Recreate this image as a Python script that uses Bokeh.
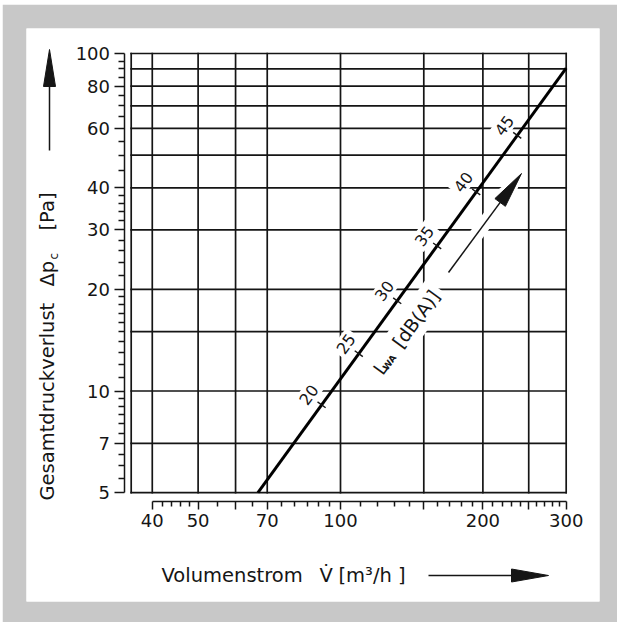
import math
from bokeh.plotting import figure
from bokeh.models import Range1d, FixedTicker
from bokeh.core.properties import value
from bokeh.embed import file_html
from bokeh.resources import INLINE

# ---------------- data ----------------
CURVE_V = [66.9, 300.0]          # Volumenstrom [m3/h]
CURVE_DP = [5.0, 90.5]           # Gesamtdruckverlust [Pa]

DB_LABELS = ["20", "25", "30", "35", "40", "45"]          # L_WA [dB(A)]
DB_V = [91.2, 109.3, 131.8, 160.1, 193.6, 236.4]
DB_DP = [9.10, 12.9, 18.5, 26.9, 38.9, 57.2]

GRID_V = [40, 50, 60, 70, 100, 150, 200, 250, 300]
GRID_DP = [5, 7, 10, 15, 20, 30, 40, 50, 60, 70, 80, 90, 100]
BOX_V = [36.1, 300]
BOX_DP = [5, 100]

X_TICKS = [40, 50, 60, 70, 100, 150, 200, 250, 300]
X_TICK_LABELS = ["40", "50", "", "70", "100", "", "200", "", "300"]
X_MINOR = [42, 44, 46, 48, 55, 65, 75, 80, 85, 90, 95,
           110, 120, 130, 140, 160, 170, 180, 190,
           210, 220, 230, 240, 260, 270, 280, 290]
Y_TICKS = [5, 7, 10, 20, 30, 40, 60, 80, 100]
Y_TICK_LABELS = ["5", "7", "10", "20", "30", "40", "60", "80", "100"]
Y_MINOR = [5.5, 6, 6.5, 7.5, 8, 8.5, 9, 9.5,
           11, 12, 13, 14, 15, 16, 17, 18, 19,
           22, 24, 26, 28, 32, 34, 36, 38,
           45, 50, 55, 65, 70, 75, 85, 90, 95]

# ---------------- layout helpers (page pixel -> data) ----------------
X_PX100, X_PXDEC = 340.0, 473.0     # page x of V=100, px per decade
Y_PX100, Y_PXDEC = 53.0, 337.5      # page y of dp=100, px per decade


def dx(px):
    return 100.0 * 10 ** ((px - X_PX100) / X_PXDEC)


def dy(py):
    return 10 ** (2 - (py - Y_PX100) / Y_PXDEC)


OX, OY = 2, 4                # gray card offset on the page
W, H = 617 - OX, 622 - OY
PANEL = (26, 599, 28, 601)   # white panel: left, right, top, bottom (page px)

FONT = value("DejaVu Sans")
INK = "#151515"
ANG = math.radians(54.0)
TITLE_SIZE = "19.5px"

p = figure(width=W, height=H, x_axis_type="log", y_axis_type="log",
           x_range=Range1d(dx(PANEL[0]), dx(PANEL[1])), y_range=Range1d(dy(PANEL[3]), dy(PANEL[2])),
           output_backend="svg", toolbar_location=None,
           min_border_left=PANEL[0] - OX, min_border_right=OX + W - PANEL[1],
           min_border_top=PANEL[2] - OY, min_border_bottom=OY + H - PANEL[3])
p.styles = {"margin-left": f"{OX}px", "margin-top": f"{OY}px"}
p.background_fill_color = "white"
p.border_fill_color = "#c8c8c8"
p.outline_line_color = None
p.xgrid.visible = False
p.ygrid.visible = False

# axes at fixed positions (detached from the grid box)
xa = p.xaxis[0]
xa.fixed_location = dy(500.5)
xa.bounds = (X_TICKS[0], X_TICKS[-1])
xa.ticker = FixedTicker(ticks=X_TICKS, minor_ticks=X_MINOR)
xa.major_label_overrides = {t: l for t, l in zip(X_TICKS, X_TICK_LABELS)}
xa.major_tick_out, xa.major_tick_in = 8, 0
xa.minor_tick_out, xa.minor_tick_in = 5, 0
xa.major_label_standoff = 5

ya = p.yaxis[0]
ya.fixed_location = dx(123.5)
ya.bounds = (Y_TICKS[0], Y_TICKS[-1])
ya.ticker = FixedTicker(ticks=Y_TICKS, minor_ticks=Y_MINOR)
ya.major_label_overrides = {t: l for t, l in zip(Y_TICKS, Y_TICK_LABELS)}
ya.major_tick_out, ya.major_tick_in = 10, 0
ya.minor_tick_out, ya.minor_tick_in = 6, 0
ya.major_label_standoff = 4

for ax in (xa, ya):
    ax.axis_line_color = INK
    ax.axis_line_width = 1.5
    ax.major_tick_line_color = INK
    ax.major_tick_line_width = 1.5
    ax.minor_tick_line_color = INK
    ax.minor_tick_line_width = 1.5
    ax.major_label_text_font = "DejaVu Sans"
    ax.major_label_text_font_size = "18px"
    ax.major_label_text_color = INK

# ---------------- grid box ----------------
vlines = [BOX_V[0]] + GRID_V
p.segment(x0=vlines, y0=[BOX_DP[0]] * len(vlines), x1=vlines, y1=[BOX_DP[1]] * len(vlines),
          line_color=INK, line_width=1.7, line_cap="square")
p.segment(x0=[BOX_V[0]] * len(GRID_DP), y0=GRID_DP, x1=[BOX_V[1]] * len(GRID_DP), y1=GRID_DP,
          line_color=INK, line_width=1.7, line_cap="square")


# ---------------- arrow helper (page px) ----------------
def arrow_geom(x0, y0, x1, y1, hl, hw):
    n = math.hypot(x1 - x0, y1 - y0)
    ux, uy = (x1 - x0) / n, (y1 - y0) / n
    bx, by = x1 - ux * hl, y1 - uy * hl
    px, py = -uy, ux
    tri = [(x1, y1), (bx + px * hw / 2, by + py * hw / 2), (bx - px * hw / 2, by - py * hw / 2)]
    shaft = [(x0, y0), (bx + ux * 2, by + uy * 2)]
    return shaft, tri


def draw_arrow(x0, y0, x1, y1, hl, hw, halo=0):
    if halo:
        n = math.hypot(x1 - x0, y1 - y0)
        ex, ey = x1 + (x1 - x0) / n * halo, y1 + (y1 - y0) / n * halo
        hs, ht = arrow_geom(x0, y0, ex, ey, hl + 2 * halo, hw + 2 * halo)
        p.line([dx(a) for a, b in hs], [dy(b) for a, b in hs], line_color="white",
               line_width=2 * halo)
        p.patch([dx(a) for a, b in ht], [dy(b) for a, b in ht], fill_color="white", line_color=None)
        return
    shaft, tri = arrow_geom(x0, y0, x1, y1, hl, hw)
    p.line([dx(a) for a, b in shaft], [dy(b) for a, b in shaft], line_color=INK, line_width=1.5)
    p.patch([dx(a) for a, b in tri], [dy(b) for a, b in tri], fill_color=INK, line_color=INK,
            line_width=1)


# halo behind the L_WA arrow, then the labels (white boxes cut the grid)
draw_arrow(448, 272, 521, 173, 36, 13, halo=7)

p.text(x=DB_V, y=DB_DP, text=DB_LABELS, angle=ANG, x_offset=-13, y_offset=-10,
       text_align="center", text_baseline="middle", text_font=FONT, text_font_size="16px",
       text_color=INK, background_fill_color="white", padding=3)

# L_WA [dB(A)] label along the line
ux, uy = math.cos(ANG), -math.sin(ANG)
vx, vy = math.sin(ANG), math.cos(ANG)
ox, oy = 374, 376


def along(s, t):
    return dx(ox + s * ux + t * vx), dy(oy + s * uy + t * vy)


lx, ly = along(0, 0)
wx, wy = along(12, 4)
bx, by = along(33, 0)
p.text(x=[lx, bx], y=[ly, by], text=["L", "[dB(A)]"], angle=ANG, text_align="left",
       text_baseline="middle", text_font=FONT, text_font_size="18.5px", text_color=INK,
       background_fill_color="white", padding=5)
p.text(x=[wx], y=[wy], text=["WA"], angle=ANG, text_align="left", text_baseline="middle",
       text_font=FONT, text_font_size="9px", text_font_style="bold", text_color=INK)

# characteristic curve and dB marks
p.line(CURVE_V, CURVE_DP, line_color="black", line_width=3)
p.scatter(DB_V, DB_DP, marker="dash", size=10, angle=math.radians(-36), line_color=INK,
          line_width=1.4)

draw_arrow(448, 272, 521, 173, 36, 13)

# ---------------- axis titles with arrows ----------------
p.text(x=[dx(47)], y=[dy(500)], text=["Gesamtdruckverlust"], angle=math.pi / 2,
       text_align="left", text_baseline="middle", text_font=FONT, text_font_size=TITLE_SIZE,
       text_color=INK)
p.text(x=[dx(47)], y=[dy(286)], text=["Δp"], angle=math.pi / 2, text_align="left",
       text_baseline="middle", text_font=FONT, text_font_size=TITLE_SIZE, text_color=INK)
p.text(x=[dx(53)], y=[dy(259)], text=["c"], angle=math.pi / 2, text_align="left",
       text_baseline="middle", text_font=FONT, text_font_size="12px", text_color=INK)
p.text(x=[dx(47)], y=[dy(230)], text=["[Pa]"], angle=math.pi / 2, text_align="left",
       text_baseline="middle", text_font=FONT, text_font_size=TITLE_SIZE, text_color=INK)
draw_arrow(49, 150, 49, 49, 37, 12)

p.text(x=[dx(161), dx(319), dx(338)], y=[dy(575)] * 3, text=["Volumenstrom", "V̇", "[m³/h ]"],
       text_align="left", text_baseline="middle", text_font=FONT, text_font_size=TITLE_SIZE,
       text_color=INK)
draw_arrow(428, 575, 548, 575, 37, 13)

open("out.html", "w").write(file_html(p, INLINE))
